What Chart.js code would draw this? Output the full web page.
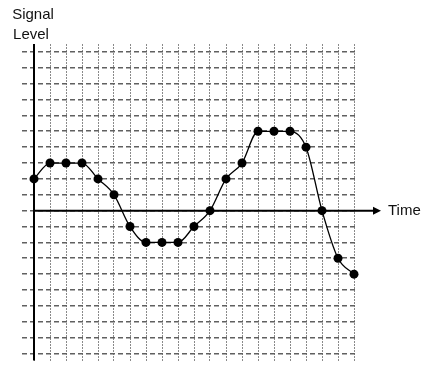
<!DOCTYPE html>
<html lang="en">
  <head>
    <meta charset="UTF-8" />
    <title>Signal Level over Time</title>
    <script src="https://cdn.jsdelivr.net/npm/chart.js"></script>
    <style>
      html,
      body {
        margin: 0;
        padding: 0;
        background: #fff;
      }
    </style>
  </head>
  <body>
    <canvas id="signalChart" width="422" height="365"></canvas>
    <script>
      // sample times and signal level (1 unit = 1 grid cell)
      const timeSteps = [0, 1, 2, 3, 4, 5, 6, 7, 8, 9, 10, 11, 12, 13, 14, 15, 16, 17, 18, 19, 20];
      const signalLevel = [2, 3, 3, 3, 2, 1, -1, -2, -2, -2, -1, 0, 2, 3, 5, 5, 5, 4, 0, -3, -4];

      const yAxisLabel = ["Signal", "Level"];
      const xAxisLabel = "Time";

      const FONT = '15px "Liberation Sans", Arial, sans-serif';

      // draws the two black axes, the arrow and the axis captions
      const axesPlugin = {
        id: "axesPlugin",
        beforeDatasetsDraw(chart) {
          const ctx = chart.ctx;
          const xs = chart.scales.x;
          const ys = chart.scales.y;
          const area = chart.chartArea;
          const x0 = xs.getPixelForValue(0);
          const y0 = ys.getPixelForValue(0);

          ctx.save();
          ctx.strokeStyle = "#000";
          ctx.lineWidth = 2;

          // vertical axis
          ctx.beginPath();
          ctx.moveTo(x0, area.top);
          ctx.lineTo(x0, area.bottom);
          ctx.stroke();

          // horizontal axis with arrow
          const tip = 381;
          ctx.beginPath();
          ctx.moveTo(x0, y0);
          ctx.lineTo(tip - 6, y0);
          ctx.stroke();
          ctx.fillStyle = "#000";
          ctx.beginPath();
          ctx.moveTo(tip, y0);
          ctx.lineTo(tip - 8, y0 - 4);
          ctx.lineTo(tip - 8, y0 + 4);
          ctx.closePath();
          ctx.fill();

          ctx.font = FONT;
          ctx.fillStyle = "#111";
          ctx.textBaseline = "middle";
          ctx.textAlign = "left";
          ctx.fillText(xAxisLabel, tip + 7, y0);

          ctx.textAlign = "center";
          ctx.textBaseline = "alphabetic";
          ctx.fillText(yAxisLabel[0], 33, 19);
          ctx.fillText(yAxisLabel[1], 31, 39);
          ctx.restore();
        },
      };

      // scales take no room: chart area is set by the layout padding only
      function noSize(scale) {
        if (scale.isHorizontal()) scale.height = 0;
        else scale.width = 0;
        scale.paddingLeft = scale.paddingRight = 0;
        scale.paddingTop = scale.paddingBottom = 0;
      }

      new Chart(document.getElementById("signalChart"), {
        type: "line",
        data: {
          datasets: [
            {
              data: timeSteps.map((t, i) => ({ x: t, y: signalLevel[i] })),
              borderColor: "#000",
              borderWidth: 1.3,
              pointRadius: 4.5,
              pointBackgroundColor: "#000",
              pointBorderColor: "#000",
              pointBorderWidth: 0,
              cubicInterpolationMode: "monotone",
              clip: false,
            },
          ],
        },
        options: {
          responsive: false,
          animation: false,
          devicePixelRatio: 1,
          layout: {
            padding: { left: 22, top: 44, right: 65.6, bottom: 2 },
          },
          plugins: {
            legend: { display: false },
            tooltip: { enabled: false },
          },
          scales: {
            x: {
              type: "linear",
              min: -0.75,
              max: 20.15,
              afterFit: noSize,
              ticks: { display: false, stepSize: 1, includeBounds: false },
              grid: { color: "#8a8a8a", lineWidth: 1, drawTicks: false },
              border: { display: false, dash: [2, 1] },
            },
            y: {
              type: "linear",
              min: -9.44,
              max: 10.5,
              afterFit: noSize,
              ticks: { display: false, stepSize: 1, includeBounds: false },
              grid: { color: "#606060", lineWidth: 1.6, drawTicks: false },
              border: { display: false, dash: [5, 3] },
            },
          },
        },
        plugins: [axesPlugin],
      });
    </script>
  </body>
</html>
